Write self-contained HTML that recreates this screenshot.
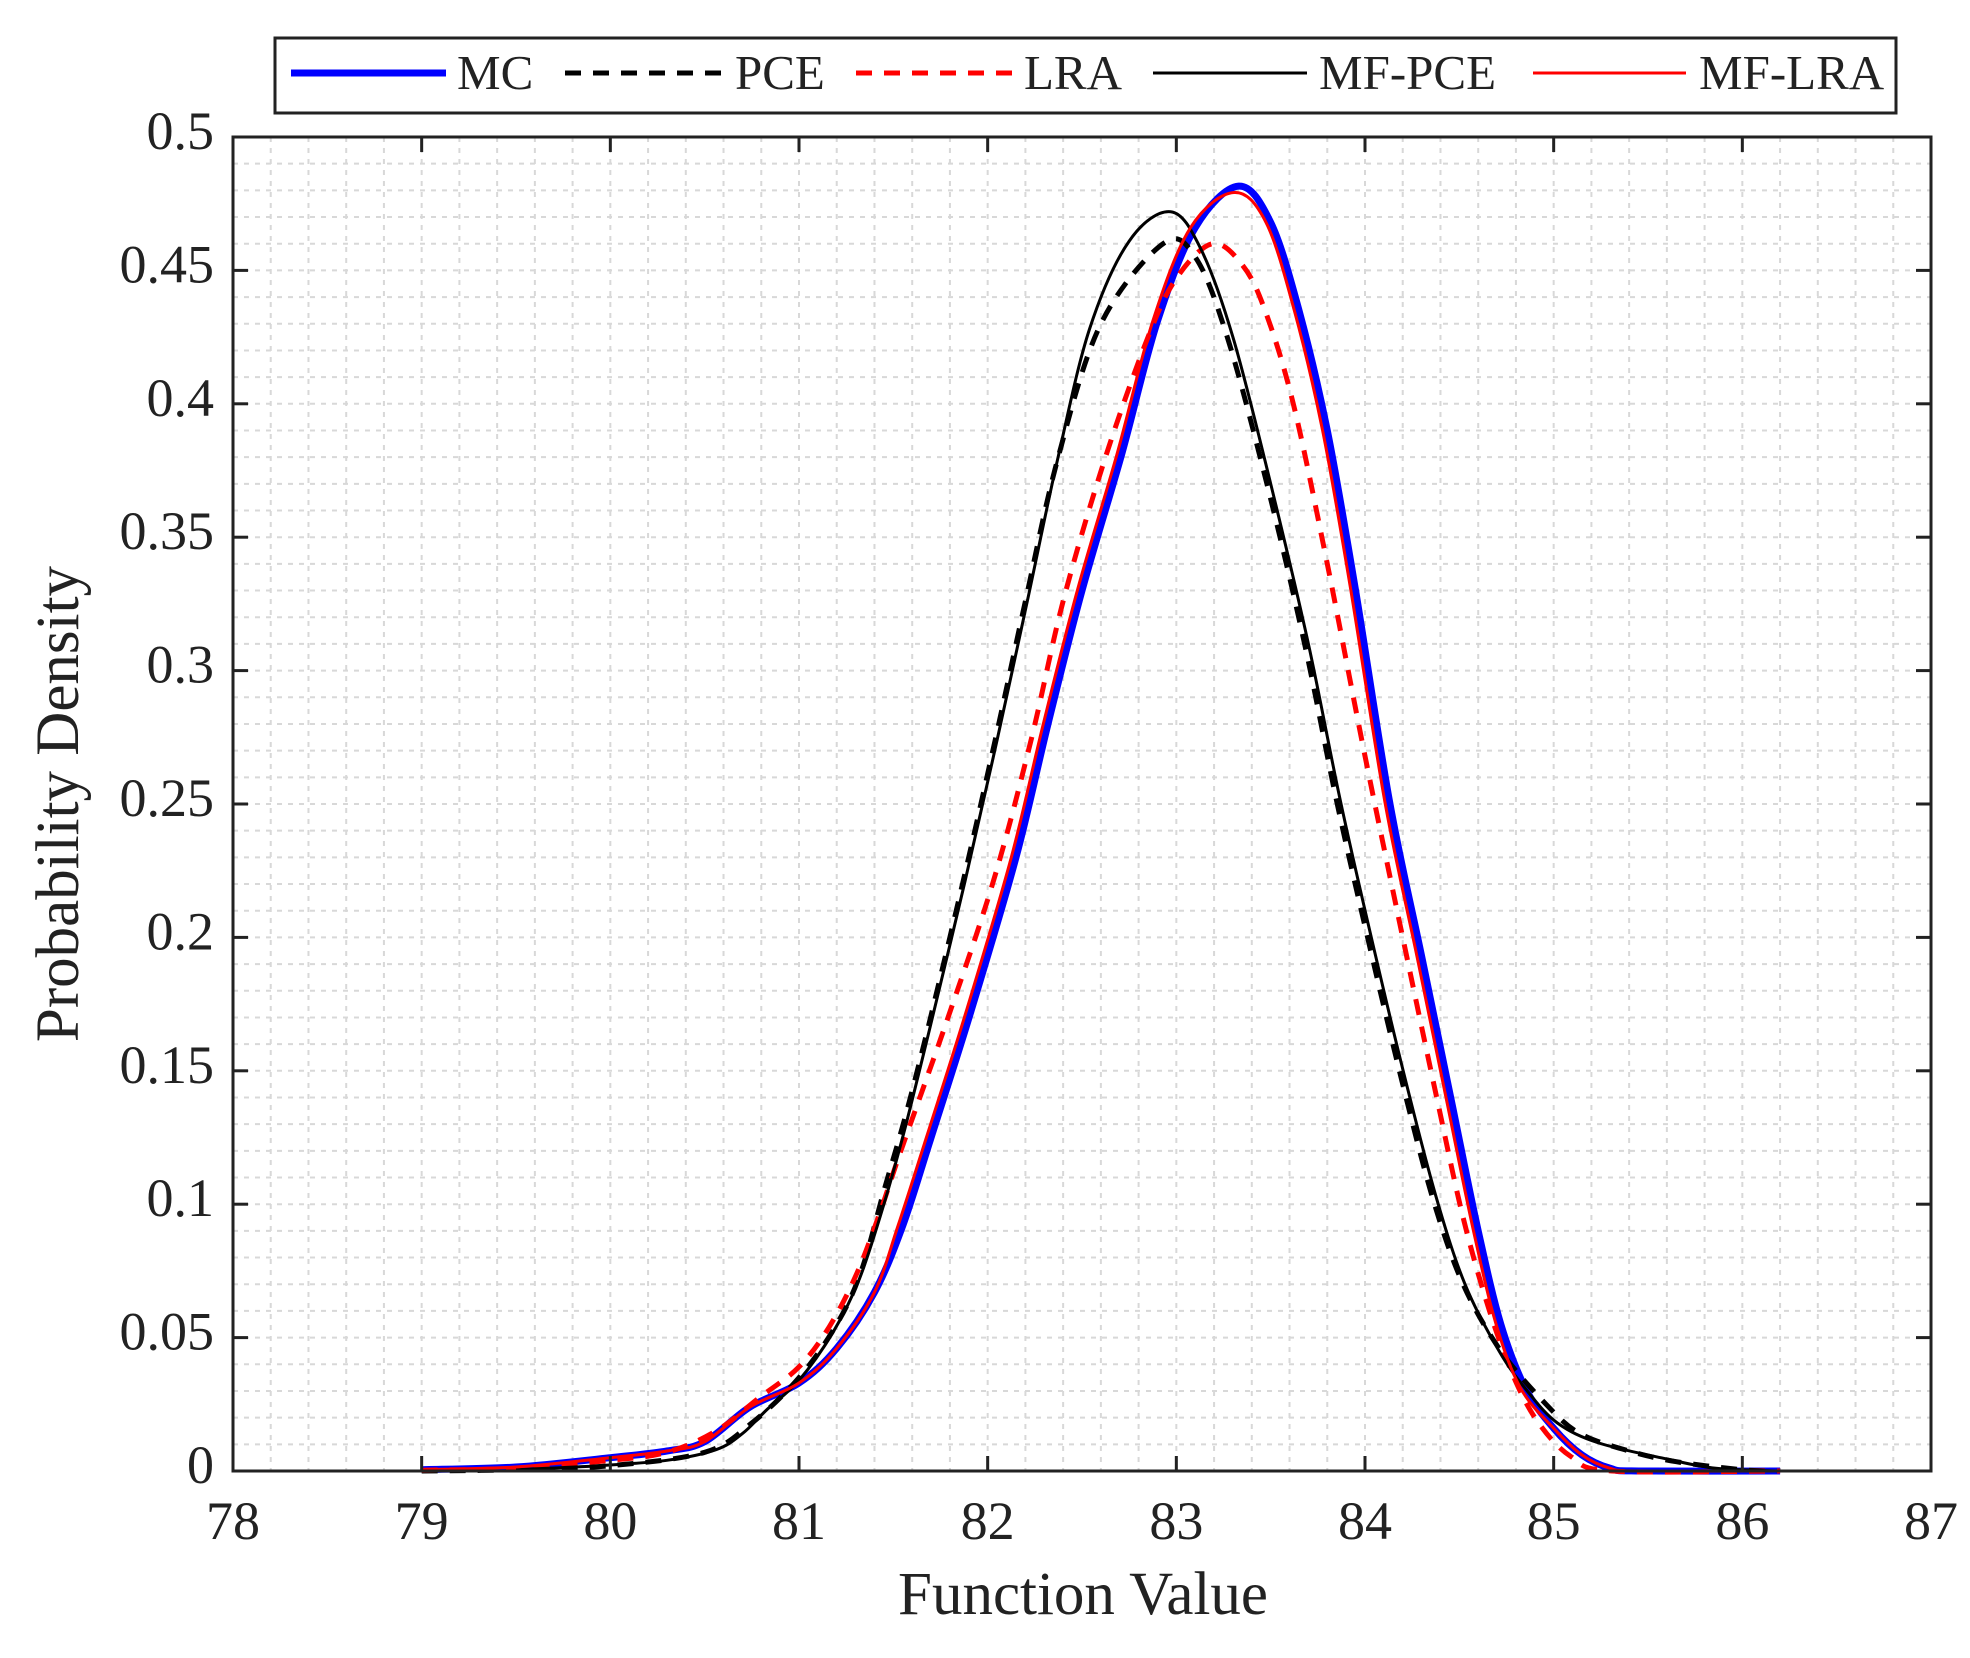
<!DOCTYPE html>
<html><head><meta charset="utf-8">
<style>
html,body{margin:0;padding:0;background:#fff;}
svg{display:block;}
text{font-family:"Liberation Serif",serif;fill:#222;}
</style></head>
<body>
<svg id="s" width="1970" height="1658" viewBox="0 0 1970 1658" xmlns="http://www.w3.org/2000/svg">
<rect width="1970" height="1658" fill="#fff"/>
<g id="grid"></g>
<g id="curves" fill="none" stroke-linejoin="round"></g>
<rect x="233" y="137" width="1698" height="1334" fill="none" stroke="#222" stroke-width="3"/>
<g id="ticks" stroke="#222" stroke-width="3"></g>
<g id="labels" font-size="54"></g>
<text x="1083" y="1614" font-size="61" text-anchor="middle">Function Value</text>
<text x="0" y="0" font-size="61" text-anchor="middle" transform="translate(78,804) rotate(-90)">Probability Density</text>
<rect x="275" y="38" width="1621" height="75" fill="#fff" stroke="#222" stroke-width="3"/>
<g font-size="49">
<line x1="291" y1="73" x2="446" y2="73" stroke="#0000ff" stroke-width="7"/>
<text x="457" y="89">MC</text>
<line x1="565" y1="73" x2="726" y2="73" stroke="#000" stroke-width="5" stroke-dasharray="16,12"/>
<text x="735" y="89">PCE</text>
<line x1="856" y1="73" x2="1013" y2="73" stroke="#ff0000" stroke-width="5" stroke-dasharray="16,12"/>
<text x="1024" y="89">LRA</text>
<line x1="1153" y1="73" x2="1307" y2="73" stroke="#000" stroke-width="3"/>
<text x="1319" y="89">MF-PCE</text>
<line x1="1533" y1="73" x2="1686" y2="73" stroke="#ff0000" stroke-width="3"/>
<text x="1699" y="89">MF-LRA</text>
</g>
</svg>
<script>
var NS="http://www.w3.org/2000/svg";
function X(v){return 233+(v-78)*188.667;}
function Y(v){return 1471-v*2668;}
function el(p,t,a,txt){var e=document.createElementNS(NS,t);for(var k in a)e.setAttribute(k,a[k]);if(txt!==undefined)e.textContent=txt;p.appendChild(e);return e;}
var g=document.getElementById('grid');
for(var i=1;i<45;i++){var x=233+i*1698/45;el(g,'line',{x1:x,y1:137,x2:x,y2:1471,stroke:'#d8d8d8','stroke-width':2,'stroke-dasharray':'5,6'});}
for(var i=1;i<50;i++){var y=1471-i*1334/50;el(g,'line',{x1:233,y1:y,x2:1931,y2:y,stroke:'#d8d8d8','stroke-width':2,'stroke-dasharray':'5,6'});}
var t=document.getElementById('ticks'),L=document.getElementById('labels');
for(var v=78;v<=87;v++){var x=X(v);el(t,'line',{x1:x,y1:1471,x2:x,y2:1456});el(t,'line',{x1:x,y1:137,x2:x,y2:152});
el(L,'text',{x:x,y:1539,'text-anchor':'middle'},String(v));}
var yl=['0','0.05','0.1','0.15','0.2','0.25','0.3','0.35','0.4','0.45','0.5'];
for(var i=0;i<=10;i++){var y=Y(i*0.05);el(t,'line',{x1:233,y1:y,x2:248,y2:y});el(t,'line',{x1:1931,y1:y,x2:1916,y2:y});
el(L,'text',{x:214,y:y+12,'text-anchor':'end'},yl[i]);}
function path(pts){var P=pts.map(function(p){return [X(p[0]),Y(p[1])];});var d='M'+P[0][0].toFixed(1)+','+P[0][1].toFixed(1);
for(var i=0;i<P.length-1;i++){var p0=P[Math.max(i-1,0)],p1=P[i],p2=P[i+1],p3=P[Math.min(i+2,P.length-1)];
var c1=[p1[0]+(p2[0]-p0[0])/6,p1[1]+(p2[1]-p0[1])/6],c2=[p2[0]-(p3[0]-p1[0])/6,p2[1]-(p3[1]-p1[1])/6];
d+='C'+c1[0].toFixed(1)+','+c1[1].toFixed(1)+' '+c2[0].toFixed(1)+','+c2[1].toFixed(1)+' '+p2[0].toFixed(1)+','+p2[1].toFixed(1);}return d;}
var MC=[[79,0.0005],[79.5,0.0015],[80,0.005],[80.3,0.0075],[80.5,0.011],[80.74,0.024],[81.0,0.033],[81.2,0.046],[81.4,0.067],[81.55,0.092],[81.7,0.125],[81.91,0.172],[82.15,0.23],[82.32,0.28],[82.5,0.33],[82.71,0.381],[82.9,0.431],[83.1,0.466],[83.33,0.4816],[83.5,0.468],[83.65,0.435],[83.8,0.39],[83.95,0.33],[84.13,0.251],[84.3,0.193],[84.46,0.138],[84.6,0.09],[84.72,0.055],[84.85,0.031],[85.0,0.016],[85.15,0.006],[85.3,0.001],[85.45,0],[86.2,0]];
var MFLRA=MC.map(function(p){var s=(p[0]>81.4&&p[0]<84.9)?-0.025:0;return [p[0]+s,p[1]*(p[1]>0.47?0.995:1)];});
var MFPCE=[[79.5,0.0005],[79.94,0.002],[80.3,0.004],[80.56,0.008],[80.7,0.014],[80.83,0.023],[81.0,0.034],[81.18,0.052],[81.32,0.072],[81.45,0.1],[81.56,0.128],[81.69,0.165],[81.88,0.221],[82.05,0.274],[82.21,0.326],[82.37,0.379],[82.54,0.428],[82.75,0.461],[82.97,0.472],[83.13,0.458],[83.3,0.425],[83.5,0.37],[83.7,0.31],[83.87,0.251],[84.05,0.195],[84.22,0.145],[84.38,0.102],[84.53,0.07],[84.71,0.045],[84.86,0.03],[85.02,0.018],[85.24,0.0105],[85.6,0.0045],[85.86,0.001],[86.2,0]];
var PCE=[[79,0],[79.5,0.0005],[80,0.002],[80.5,0.007],[80.75,0.018],[81.0,0.035],[81.2,0.055],[81.33,0.075],[81.45,0.105],[81.56,0.132],[81.68,0.165],[81.87,0.221],[82.04,0.274],[82.2,0.326],[82.37,0.379],[82.6,0.43],[82.93,0.46],[83.1,0.455],[83.27,0.425],[83.48,0.37],[83.68,0.31],[83.85,0.251],[84.03,0.195],[84.2,0.145],[84.36,0.102],[84.52,0.07],[84.72,0.045],[84.96,0.025],[85.14,0.014],[85.4,0.0075],[85.65,0.0035],[86.0,0.0005],[86.2,0]];
var LRA=[[79,0.0003],[79.5,0.001],[80,0.004],[80.3,0.007],[80.56,0.015],[80.79,0.0275],[81.0,0.039],[81.16,0.054],[81.3,0.073],[81.42,0.095],[81.53,0.118],[81.78,0.168],[82.03,0.221],[82.23,0.274],[82.4,0.326],[82.62,0.379],[82.85,0.425],[83.0,0.447],[83.19,0.46],[83.35,0.452],[83.47,0.435],[83.62,0.4],[83.8,0.34],[84.0,0.268],[84.2,0.2],[84.38,0.14],[84.52,0.095],[84.66,0.06],[84.79,0.035],[84.92,0.018],[85.09,0.0055],[85.31,0],[86.2,0]];
var C=document.getElementById('curves');
el(C,'path',{d:path(MC),stroke:'#0000ff','stroke-width':7});
el(C,'path',{d:path(PCE),stroke:'#000','stroke-width':5,'stroke-dasharray':'16,12'});
el(C,'path',{d:path(LRA),stroke:'#ff0000','stroke-width':5,'stroke-dasharray':'16,12'});
el(C,'path',{d:path(MFPCE),stroke:'#000','stroke-width':3});
el(C,'path',{d:path(MFLRA),stroke:'#ff0000','stroke-width':3});
</script>
</body></html>
